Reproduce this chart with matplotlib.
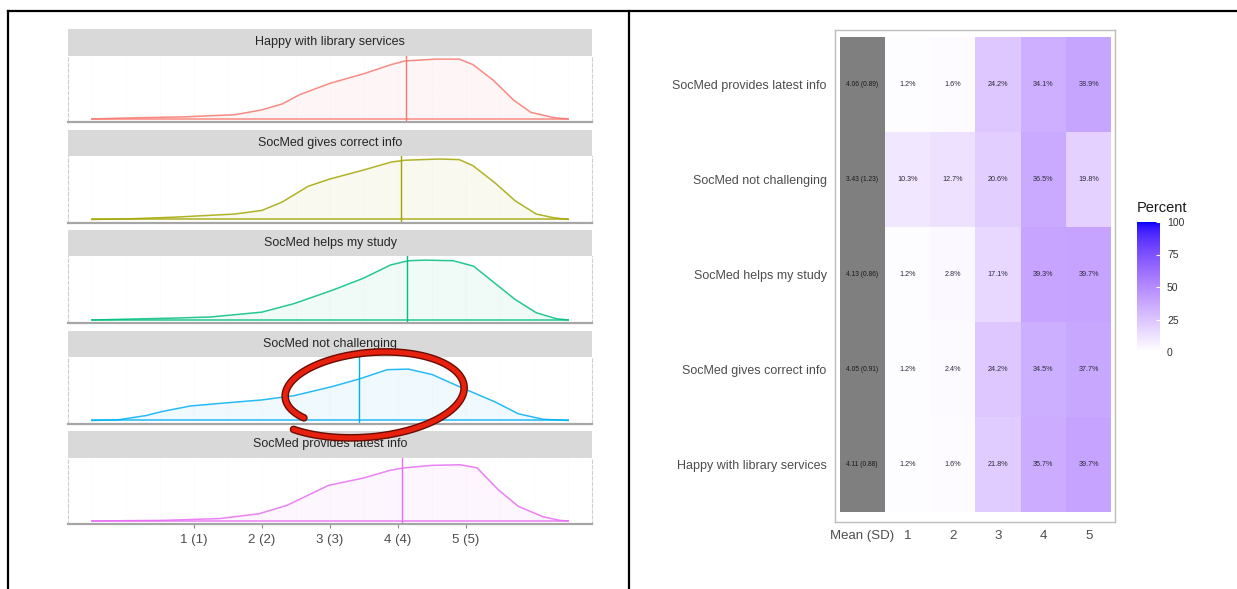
import numpy as np
import matplotlib
matplotlib.use('Agg')
import matplotlib.pyplot as plt
import matplotlib.patheffects as pe
from matplotlib.colors import ListedColormap, Normalize
from matplotlib.cm import ScalarMappable
from matplotlib.lines import Line2D

plt.rcParams['font.family'] = ['Liberation Sans', 'DejaVu Sans']

# survey items (top-to-bottom on the left, bottom-to-top on the right)
items = ["Happy with library services", "SocMed gives correct info",
         "SocMed helps my study", "SocMed not challenging",
         "SocMed provides latest info"]
means = [4.11, 4.05, 4.13, 3.43, 4.06]
sds = [0.88, 0.91, 0.86, 1.23, 0.89]

# percent answering each level
pct_level1 = [1.2, 1.2, 1.2, 10.3, 1.2]
pct_level2 = [1.6, 2.4, 2.8, 12.7, 1.6]
pct_level3 = [21.8, 24.2, 17.1, 20.6, 24.2]
pct_level4 = [35.7, 34.5, 39.3, 36.5, 34.1]
pct_level5 = [39.7, 37.7, 39.7, 19.8, 38.9]

level_labels = ["1 (1)", "2 (2)", "3 (3)", "4 (4)", "5 (5)"]
heat_labels = ["Mean (SD)", "1", "2", "3", "4", "5"]

# density curves (relative height)
dens_x_happy = [-0.5, 0.15, 0.85, 1.6, 2.0, 2.3, 2.55, 3.0, 3.5, 3.9, 4.1, 4.55, 4.9, 5.1, 5.4, 5.7, 5.95, 6.3, 6.5]
dens_y_happy = [0, 0.02, 0.035, 0.07, 0.15, 0.25, 0.40, 0.59, 0.75, 0.90, 0.96, 0.99, 0.99, 0.90, 0.64, 0.31, 0.11, 0.02, 0]
dens_x_correct = [-0.5, 0.05, 0.75, 1.6, 2.0, 2.3, 2.68, 3.0, 3.5, 3.9, 4.1, 4.6, 4.9, 5.1, 5.42, 5.72, 6.03, 6.28, 6.5]
dens_y_correct = [0, 0.01, 0.04, 0.09, 0.15, 0.29, 0.55, 0.67, 0.82, 0.95, 0.98, 1.0, 0.99, 0.89, 0.61, 0.31, 0.09, 0.03, 0]
dens_x_helps = [-0.5, -0.12, 0.67, 1.25, 2.0, 2.47, 3.03, 3.49, 3.89, 4.15, 4.4, 4.81, 5.11, 5.42, 5.72, 6.03, 6.33, 6.5]
dens_y_helps = [0, 0.01, 0.03, 0.05, 0.13, 0.27, 0.49, 0.69, 0.91, 0.98, 0.99, 0.98, 0.89, 0.61, 0.34, 0.12, 0.02, 0]
dens_x_challenge = [-0.5, -0.12, 0.29, 0.54, 0.95, 1.46, 2.0, 2.47, 3.03, 3.44, 3.84, 4.15, 4.5, 4.96, 5.42, 5.77, 6.13, 6.5]
dens_y_challenge = [0, 0.01, 0.08, 0.15, 0.24, 0.29, 0.34, 0.41, 0.56, 0.69, 0.84, 0.85, 0.76, 0.53, 0.31, 0.11, 0.02, 0]
dens_x_latest = [-0.5, 0.54, 1.38, 1.96, 2.37, 2.98, 3.49, 3.89, 4.1, 4.5, 4.91, 5.16, 5.47, 5.77, 6.13, 6.38, 6.5]
dens_y_latest = [0, 0.01, 0.04, 0.12, 0.26, 0.59, 0.71, 0.84, 0.88, 0.92, 0.93, 0.88, 0.52, 0.24, 0.07, 0.01, 0]

dens_x = [dens_x_happy, dens_x_correct, dens_x_helps, dens_x_challenge, dens_x_latest]
dens_y = [dens_y_happy, dens_y_correct, dens_y_helps, dens_y_challenge, dens_y_latest]
hue_colors = ["#F8766D", "#A3A500", "#00BF7D", "#00B0F6", "#E76BF3"]

W, H = 1237, 589


def fig_rect(x0, y0, x1, y1):
    # pixel box (top-left origin) -> figure fraction rect
    return [x0 / W, 1 - y1 / H, (x1 - x0) / W, (y1 - y0) / H]


def lab_white_blue(n=256):
    # ggplot-like white -> blue gradient interpolated in Lab
    t = np.linspace(0, 1, n)
    L = 100 + (32.30 - 100) * t
    a = 79.19 * t
    b = -107.86 * t
    fy = (L + 16) / 116
    fx = fy + a / 500
    fz = fy - b / 200
    finv = lambda v: np.where(v ** 3 > 0.008856, v ** 3, (v - 16 / 116) / 7.787)
    X, Y, Z = 0.95047 * finv(fx), finv(fy), 1.08883 * finv(fz)
    r = 3.2406 * X - 1.5372 * Y - 0.4986 * Z
    g = -0.9689 * X + 1.8758 * Y + 0.0415 * Z
    bl = 0.0557 * X - 0.2040 * Y + 1.0570 * Z
    rgb = np.clip(np.stack([r, g, bl], -1), 0, 1)
    rgb = np.where(rgb <= 0.0031308, 12.92 * rgb, 1.055 * rgb ** (1 / 2.4) - 0.055)
    return ListedColormap(np.clip(rgb, 0, 1))


def main():
    fig = plt.figure(figsize=(W / 100, H / 100), dpi=100)

    # ---- left: density facets ----
    for i, item in enumerate(items):
        top = 29 + 100.5 * i
        sax = fig.add_axes(fig_rect(68, top, 592, top + 26.5))
        sax.set_facecolor('#D9D9D9')
        sax.set_xticks([]); sax.set_yticks([])
        for s in sax.spines.values():
            s.set_visible(False)
        sax.text(0.5, 0.5, item, ha='center', va='center', fontsize=9, color='#262626',
                 transform=sax.transAxes)

        ax = fig.add_axes(fig_rect(68, top + 26.5, 592, top + 93))
        c = hue_colors[i]
        ax.fill_between(dens_x[i], dens_y[i], 0, color=c, alpha=0.06, lw=0)
        ax.plot(dens_x[i], dens_y[i], color=c, lw=1.1, alpha=0.85)
        ax.plot([dens_x[i][0], dens_x[i][-1]], [0, 0], color=c, lw=1.1, alpha=0.85)
        ax.axvline(means[i], color=c, lw=1.0)
        ax.set_xlim(-0.85, 6.85)
        ax.set_ylim(-0.05, 1.05)
        for gx in np.arange(-0.5, 7.0, 0.5):
            ax.axvline(gx, color='#F5F5F5', lw=0.5, ls=(0, (3, 3)), zorder=0)
        ax.set_yticks([])
        for side in ['left', 'right']:
            ax.spines[side].set_color('#CFCFCF')
            ax.spines[side].set_linestyle((0, (3, 2)))
            ax.spines[side].set_linewidth(0.8)
        ax.spines['top'].set_visible(False)
        ax.spines['bottom'].set_color('#A6A6A6')
        ax.spines['bottom'].set_linewidth(1.6)
        if i == len(items) - 1:
            ax.set_xticks([1, 2, 3, 4, 5])
            ax.set_xticklabels(level_labels, fontsize=9.5, color='#4D4D4D')
            ax.tick_params(axis='x', length=3, color='#8C8C8C', pad=4)
        else:
            ax.set_xticks([])

    # hand-drawn red ellipse annotation
    t = np.linspace(2.5, 2 * np.pi + 2.35, 300)
    k = 0.80 + 0.26 * (t - t[0]) / (t[-1] - t[0])
    px = 368 + 100 * k * np.cos(t)
    py = 392 + 44 * k * np.sin(t) - 6 * np.cos(t)
    fig.add_artist(Line2D(px / W, 1 - py / H, transform=fig.transFigure, color='#E8200E', lw=3.5,
                          solid_capstyle='round',
                          path_effects=[pe.Stroke(linewidth=5.5, foreground='#6A0C02'), pe.Normal()]))

    # ---- right: heatmap ----
    hax = fig.add_axes(fig_rect(835, 30, 1115, 522))
    cmap = lab_white_blue()
    norm = Normalize(0, 100)
    pct = np.array([pct_level1, pct_level2, pct_level3, pct_level4, pct_level5]).T
    rows = np.arange(len(items))
    hax.pcolormesh(np.arange(0.5, 6.0, 1.0), np.arange(-0.5, 5.0, 1.0), pct, cmap=cmap, norm=norm)
    hax.barh(rows, 1.0, left=-0.5, height=1.0, color='#7F7F7F')
    for r in rows:
        hax.text(0, r, f"{means[r]:.2f} ({sds[r]:.2f})", ha='center', va='center', fontsize=4.8,
                 color='#1A1A1A')
        for j in range(5):
            hax.text(j + 1, r, f"{pct[r, j]:.1f}%", ha='center', va='center', fontsize=5.2,
                     color='#2A2A3A')
    hax.set_xlim(-0.6, 5.58)
    hax.set_ylim(-0.6, 4.57)
    hax.set_xticks(range(6))
    hax.set_xticklabels(heat_labels, fontsize=9.5, color='#4D4D4D')
    hax.set_yticks(rows)
    hax.set_yticklabels(items, fontsize=9, color='#4D4D4D')
    hax.tick_params(length=0, pad=6)
    for s in hax.spines.values():
        s.set_color('#BDBDBD')
        s.set_linewidth(1.0)

    # colour bar
    cax = fig.add_axes(fig_rect(1137, 222, 1160, 352))
    cb = fig.colorbar(ScalarMappable(norm=norm, cmap=cmap), cax=cax)
    cb.outline.set_visible(False)
    cb.set_ticks([0, 25, 50, 75, 100])
    cax.tick_params(length=3, color='white', direction='in', labelsize=7.5, labelcolor='#333333', pad=5)
    fig.text(1137 / W, 1 - 208 / H, "Percent", fontsize=10.5, color='#1A1A1A', va='center')

    # outer frame and divider
    fig.add_artist(Line2D([8 / W, 1], [1 - 11 / H, 1 - 11 / H], transform=fig.transFigure, color='black', lw=1.6))
    fig.add_artist(Line2D([8 / W, 8 / W], [0, 1 - 11 / H], transform=fig.transFigure, color='black', lw=1.6))
    fig.add_artist(Line2D([629 / W, 629 / W], [0, 1 - 11 / H], transform=fig.transFigure, color='black', lw=1.6))

    fig.savefig('out.png', dpi=100)


if __name__ == '__main__':
    main()
